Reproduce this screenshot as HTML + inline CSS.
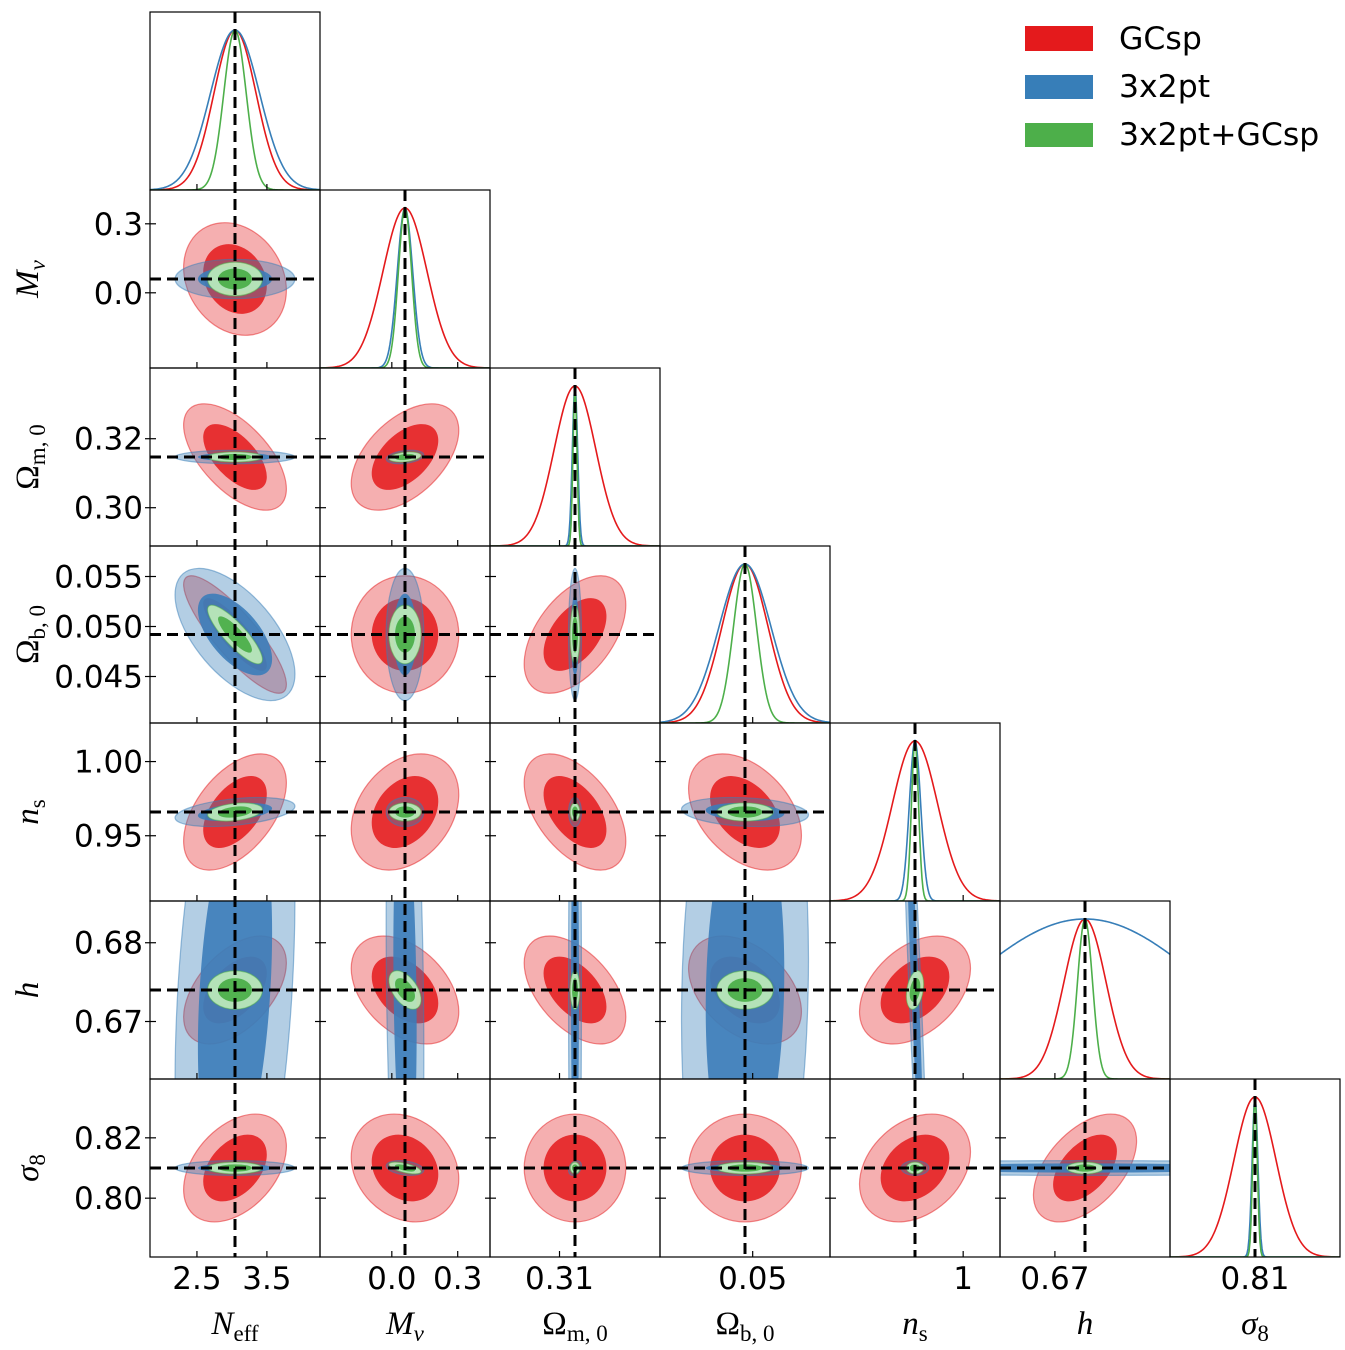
<!DOCTYPE html>
<html><head><meta charset="utf-8"><style>
html,body{margin:0;padding:0;background:#fff;}
svg{display:block;}
.tk{font-family:"DejaVu Sans","Liberation Sans",sans-serif;font-size:31px;fill:#000;}
.ax{font-family:"Liberation Serif","DejaVu Serif",serif;font-size:33px;fill:#000;}
</style></head><body>
<svg id="fig" width="1345" height="1350" viewBox="0 0 1345 1350" xmlns="http://www.w3.org/2000/svg">
<rect width="1345" height="1350" fill="#fff"/>
<g id="panels"></g>
<g id="legend">
<rect x="1025" y="26" width="68" height="25" fill="#e41a1c"/>
<text class="tk" x="1119" y="49" style="font-size:31.5px">GCsp</text>
<rect x="1025" y="75" width="68" height="24" fill="#377eb8"/>
<text class="tk" x="1119" y="97" style="font-size:31.5px">3x2pt</text>
<rect x="1025" y="123" width="68" height="24" fill="#4daf4a"/>
<text class="tk" x="1119" y="145" style="font-size:31.5px">3x2pt+GCsp</text>
</g>
</svg>
<script>
// ---- data ----
const paramNames = ["Neff","Mnu","Om","Ob","ns","h","s8"];
const fiducial = [3.044, 0.06, 0.3147, 0.0492, 0.966, 0.674, 0.81];
const halfRange = [1.215, 0.387, 0.0258, 0.00885, 0.06, 0.0113, 0.0295];
const sigmaGC = [0.30, 0.10, 0.0063, 0.0024, 0.016, 0.0028, 0.0073];
const sigma3x2 = [0.35, 0.035, 0.0008, 0.0027, 0.004, 0.016, 0.0010];
const sigmaComb = [0.16, 0.030, 0.0006, 0.0012, 0.0025, 0.0010, 0.0008];
// correlations, lower triangle order: (1,0),(2,0),(2,1),(3,0),(3,1),(3,2),(4,0)...
const rhoGC = [-0.2, -0.6,0.5, -0.85,0.0,0.5, 0.5,0.3,-0.5,-0.4, 0.5,-0.4,-0.5,-0.4,0.4, 0.4,-0.2,0.0,0.0,0.3,0.5];
const rho3x2 = [0.0, 0.0,0.3, -0.6,0.0,0.0, 0.4,0.0,0.0,-0.2, 0.3,-0.2,0.0,0.1,-0.9, 0.0,-0.3,0.3,0.0,0.0,0.0];
const rhoComb = [0.0, 0.0,0.3, -0.85,0.0,0.0, 0.3,0.0,0.0,0.0, 0.0,-0.5,0.0,0.0,0.3, 0.0,-0.6,0.0,0.0,0.0,0.0];
const xTickVals = [[2.5,3.5],[0.0,0.3],[0.31],[0.05],[1],[0.67],[0.81]];
const xTickLabels = [["2.5","3.5"],["0.0","0.3"],["0.31"],["0.05"],["1"],["0.67"],["0.81"]];
const yTickVals = [[],[0.3,0.0],[0.32,0.30],[0.055,0.050,0.045],[1.00,0.95],[0.68,0.67],[0.82,0.80]];
const yTickLabels = [[],["0.3","0.0"],["0.32","0.30"],["0.055","0.050","0.045"],["1.00","0.95"],["0.68","0.67"],["0.82","0.80"]];

// ---- layout ----
const NS="http://www.w3.org/2000/svg";
const colL=[150,320,490,660,830,1000,1170,1340];
const rowT=[12,190,368,546,723,901,1079,1257];
const g=document.getElementById('panels');
function el(t,a,p){const e=document.createElementNS(NS,t);for(const k in a)e.setAttribute(k,a[k]);(p||g).appendChild(e);return e;}
function xs(j,v){return colL[j]+(v-(fiducial[j]-halfRange[j]))/(2*halfRange[j])*(colL[j+1]-colL[j]);}
function ys(i,v){return rowT[i+1]-(v-(fiducial[i]-halfRange[i]))/(2*halfRange[i])*(rowT[i+1]-rowT[i]);}
function rho(arr,i,j){if(i<j){const t=i;i=j;j=t;}return arr[i*(i-1)/2+j];}
const probes=[
 {s:sigmaGC,r:rhoGC,name:'gcsp',line:'#e41a1c',outer:'rgba(236,110,112,0.55)',outerStroke:'rgba(228,26,28,0.5)',inner:'rgba(228,26,28,0.85)'},
 {s:sigma3x2,r:rho3x2,name:'3x2pt',line:'#377eb8',outer:'rgba(55,126,184,0.38)',outerStroke:'rgba(55,126,184,0.5)',inner:'rgba(60,125,185,0.9)'},
 {s:sigmaComb,r:rhoComb,name:'combined',line:'#4daf4a',outer:'rgba(190,235,185,0.92)',outerStroke:'rgba(77,175,74,0.5)',inner:'rgba(77,175,74,0.95)'}
];
const defs=el('defs',{});
const N=7;
for(let i=0;i<N;i++){
 for(let j=0;j<=i;j++){
  const x0=colL[j],x1=colL[j+1],y0=rowT[i],y1=rowT[i+1];
  const cid='c'+i+'_'+j;
  const cp=el('clipPath',{id:cid},defs);el('rect',{x:x0,y:y0,width:x1-x0,height:y1-y0},cp);
  const pg=el('g',{'clip-path':'url(#'+cid+')'});
  
  
  if(i===j){
   probes.forEach(p=>{
    let d='';
    for(let px=x0;px<=x1;px+=1){
     const v=fiducial[j]-halfRange[j]+(px-x0)/(x1-x0)*2*halfRange[j];
     const z=(v-fiducial[j])/p.s[j];
     const y=y1-(y1-y0-18)*Math.exp(-0.5*z*z);
     d+=(d?'L':'M')+px+','+y.toFixed(2);
    }
    const path=el('path',{d:d,fill:'none',stroke:p.line,'stroke-width':1.6},pg);
    
    
   });
  } else {
   probes.forEach(p=>{
    const cx=xs(j,fiducial[j]),cy=ys(i,fiducial[i]);
    const sx=p.s[j]*(x1-x0)/(2*halfRange[j]);
    const sy=p.s[i]*(y1-y0)/(2*halfRange[i]);
    const r=rho(p.r,i,j);
    const a=sx*sx,c=sy*sy,b=-r*sx*sy;
    const tr=(a+c)/2,dt=Math.sqrt(((a-c)/2)**2+b*b);
    const l1=tr+dt,l2=Math.max(tr-dt,1e-9);
    const ang=Math.atan2(l1-a,b)*180/Math.PI;
    const angle=(Math.abs(b)<1e-12)?(a>=c?0:90):ang;
    [[2.448,p.outer,p.outerStroke,'outer'],[1.515,p.inner,'none','inner']].forEach(L=>{
     const e=el('ellipse',{cx:cx,cy:cy,rx:L[0]*Math.sqrt(l1),ry:L[0]*Math.sqrt(l2),transform:'rotate('+angle+' '+cx+' '+cy+')',fill:L[1],stroke:L[2],'stroke-width':1.2},pg);
     
     
    });
   });
  }
  const fr=el('rect',{x:x0,y:y0,width:x1-x0,height:y1-y0,fill:'none',stroke:'#000','stroke-width':1.2});
  
  
  xTickVals[j].forEach(v=>{const x=xs(j,v);el('line',{x1:x,x2:x,y1:y1,y2:y1-6,stroke:'#000','stroke-width':1.2});});
  if(j!==i) yTickVals[i].forEach(v=>{const y=ys(i,v);el('line',{x1:x0-5,x2:x0+6,y1:y,y2:y,stroke:'#000','stroke-width':1.2});});
 }
}
for(let j=0;j<N;j++){
 const x=xs(j,fiducial[j]);
 const ln=el('line',{x1:x,x2:x,y1:rowT[j],y2:rowT[7],stroke:'#000','stroke-width':3,'stroke-dasharray':'11,6'});
 
 
}
for(let i=1;i<N;i++){
 const y=ys(i,fiducial[i]);
 const ln=el('line',{x1:colL[0],x2:colL[i],y1:y,y2:y,stroke:'#000','stroke-width':3,'stroke-dasharray':'11,6'});
 
 
}
for(let j=0;j<N;j++){
 xTickVals[j].forEach((v,k)=>{
  const t=el('text',{x:xs(j,v),y:1289,'text-anchor':'middle',class:'tk'});t.textContent=xTickLabels[j][k];
  
  
 });
}
for(let i=1;i<N;i++){
 yTickVals[i].forEach((v,k)=>{
  const t=el('text',{x:143,y:ys(i,v)+11,'text-anchor':'end',class:'tk'});t.textContent=yTickLabels[i][k];
  
  
 });
}
const labMain=["N","M","Ω","Ω","n","h","σ"];
const labSub=["eff","ν","m, 0","b, 0","s","","8"];
const subItalic=[false,true,false,false,false,false,false];
function axisLabel(k,x,y,rot,parent){
 const t=el('text',{x:x,y:y,'text-anchor':'middle',class:'ax'},parent);
 if(rot)t.setAttribute('transform','rotate(-90 '+x+' '+y+')');
 const m=el('tspan',{'font-style':labMain[k]==='Ω'?'normal':'italic'},t);m.textContent=labMain[k];
 if(labSub[k]){const s=el('tspan',{dy:7,'font-size':'23px','font-style':subItalic[k]?'italic':'normal'},t);s.textContent=labSub[k];}
 return t;
}
for(let j=0;j<N;j++){
 const t=axisLabel(j,xs(j,fiducial[j]),1334,false);
 
 
}
for(let i=1;i<N;i++){
 const t=axisLabel(i,38,(rowT[i]+rowT[i+1])/2,true);
 
 
}
</script>
</body></html>
